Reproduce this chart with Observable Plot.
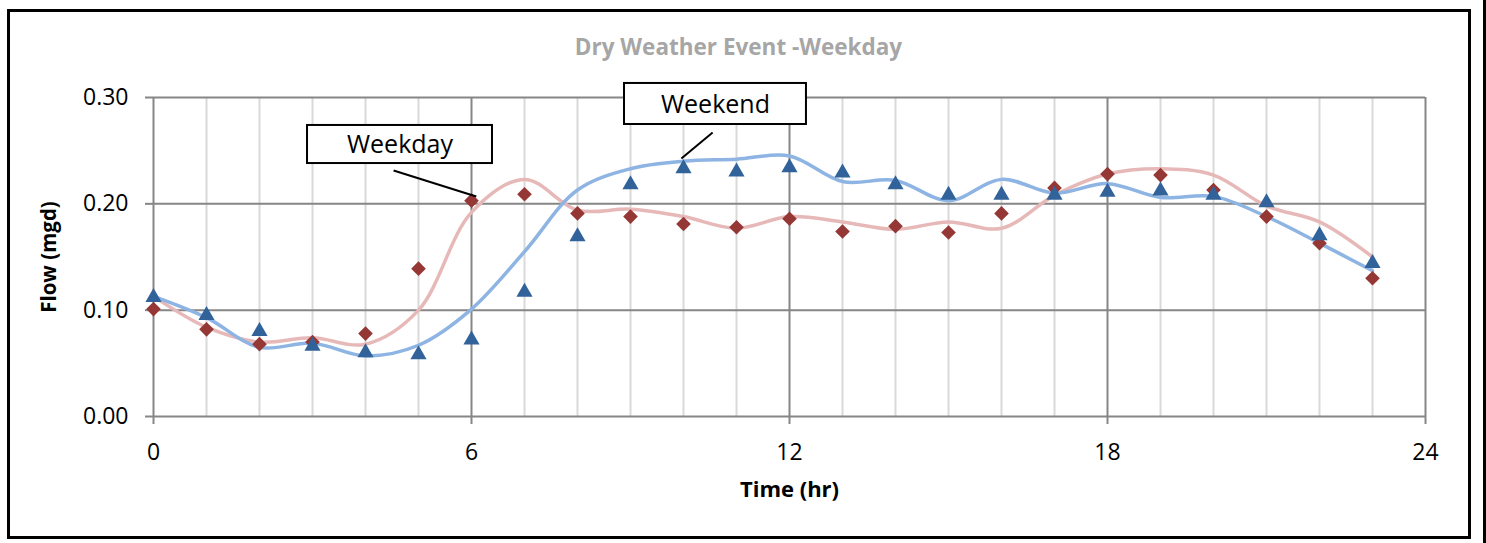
<!DOCTYPE html>
<html>
<head>
<meta charset="utf-8">
<script src="https://cdn.jsdelivr.net/npm/d3@7"></script>
<script src="https://cdn.jsdelivr.net/npm/@observablehq/plot@0.6"></script>
<style>
  html, body { margin: 0; padding: 0; background: #fff; overflow: hidden; }
  #wrap { position: relative; width: 1486px; height: 543px; }
  #frame { position: absolute; left: 7px; top: 9px; width: 1458px; height: 524px; border: 3px solid #000; pointer-events: none; }
  #edge { position: absolute; left: 1483px; top: 0; width: 3px; height: 543px; background: #000; }
  #chart { position: absolute; left: 0; top: 0; }
</style>
</head>
<body>
<div id="wrap">
  <div id="chart"></div>
  <div id="frame"></div>
  <div id="edge"></div>
</div>
<script>
// ---- data ----
const hours = [0,1,2,3,4,5,6,7,8,9,10,11,12,13,14,15,16,17,18,19,20,21,22,23];
const weekdayObs = [0.101,0.082,0.068,0.070,0.078,0.139,0.203,0.209,0.191,0.188,0.181,0.178,0.186,0.174,0.179,0.173,0.191,0.215,0.228,0.227,0.213,0.188,0.163,0.130];
const weekendObs = [0.114,0.097,0.082,0.068,0.062,0.060,0.074,0.119,0.171,0.220,0.235,0.232,0.236,0.231,0.220,0.210,0.210,0.210,0.213,0.214,0.210,0.203,0.172,0.146];
const weekdayFit = [0.113,0.084,0.070,0.074,0.068,0.100,0.192,0.223,0.194,0.195,0.188,0.177,0.188,0.183,0.176,0.183,0.177,0.208,0.228,0.233,0.227,0.198,0.183,0.150];
const weekendFit = [0.113,0.093,0.065,0.069,0.057,0.067,0.101,0.155,0.213,0.233,0.240,0.242,0.245,0.221,0.222,0.203,0.223,0.210,0.219,0.206,0.207,0.188,0.163,0.137];
const xTicks = [0,6,12,18,24];
const yTicks = [0.00,0.10,0.20,0.30];
const minorHours = [1,2,3,4,5,7,8,9,10,11,13,14,15,16,17,19,20,21,22,23];
const calloutLabels = ["Weekday","Weekend"];
const calloutX1 = [2.906, 8.887];
const calloutX2 = [6.396, 12.32];
const calloutY1 = [0.2379, 0.2746];
const calloutY2 = [0.2737, 0.3132];
const leaderX1 = [4.53, 10.55];
const leaderY1 = [0.2313, 0.267];
const leaderX2 = [6.09, 9.96];
const leaderY2 = [0.2069, 0.2426];
const titleText = "Dry Weather Event -Weekday";
const xLabel = "Time (hr)";
const yLabel = "Flow (mgd)";

// ---- tables ----
const rows = hours.map((h, i) => ({h, wdObs: weekdayObs[i], weObs: weekendObs[i], wdFit: weekdayFit[i], weFit: weekendFit[i]}));
const callouts = calloutLabels.map((t, i) => ({t, x1: calloutX1[i], x2: calloutX2[i], y1: calloutY1[i], y2: calloutY2[i],
  cx: (calloutX1[i] + calloutX2[i]) / 2, cy: (calloutY1[i] + calloutY2[i]) / 2,
  lx1: leaderX1[i], ly1: leaderY1[i], lx2: leaderX2[i], ly2: leaderY2[i]}));

const grid = "#868686";
const chart = Plot.plot({
  width: 1486,
  height: 543,
  marginLeft: 153,
  marginRight: 61,
  marginTop: 97,
  marginBottom: 127,
  style: {fontFamily: "'Open Sans', sans-serif", fontSize: "23px", background: "transparent", overflow: "visible"},
  x: {domain: [0, 24]},
  y: {domain: [0, 0.30]},
  marks: [
    Plot.ruleX(minorHours, {stroke: "#d9d9d9", strokeWidth: 2}),
    Plot.ruleX(xTicks, {stroke: grid, strokeWidth: 2}),
    Plot.ruleY(yTicks, {stroke: grid, strokeWidth: 2}),
    Plot.axisX({ticks: xTicks, tickSize: 8, tickPadding: 19, tickFormat: d => String(d), stroke: grid, strokeWidth: 2, fill: "#000", fontSize: 23, label: null}),
    Plot.axisY({ticks: yTicks, tickSize: 8, tickPadding: 17, tickFormat: d3.format(".2f"), stroke: grid, strokeWidth: 2, fill: "#000", fontSize: 23, label: null}),
    Plot.line(rows, {x: "h", y: "wdFit", stroke: "#E6B9B8", strokeWidth: 3.5, curve: "catmull-rom"}),
    Plot.line(rows, {x: "h", y: "weFit", stroke: "#8DB4E2", strokeWidth: 3.5, curve: "catmull-rom"}),
    Plot.dot(rows, {x: "h", y: "wdObs", symbol: "diamond2", r: 6.6, fill: "#953735", stroke: "none"}),
    Plot.dot(rows, {x: "h", y: "weObs", symbol: "triangle", r: 6, fill: "#31639A", stroke: "none", dy: 2}),
    Plot.link(callouts, {x1: "lx1", y1: "ly1", x2: "lx2", y2: "ly2", stroke: "#000", strokeWidth: 2}),
    Plot.rect(callouts, {x1: "x1", x2: "x2", y1: "y1", y2: "y2", fill: "#fff", stroke: "#000", strokeWidth: 2}),
    Plot.text(callouts, {x: "cx", y: "cy", text: "t", fontSize: 25, fill: "#000", dy: 1}),
    Plot.text([titleText], {frameAnchor: "top", lineAnchor: "middle", textAnchor: "middle", dx: -51, dy: -50, text: d => d, fontSize: 22.5, fontWeight: "bold", fill: "#A6A6A6"}),
    Plot.text([xLabel], {frameAnchor: "bottom", lineAnchor: "middle", textAnchor: "middle", dy: 73, text: d => d, fontSize: 22, fontWeight: "bold", fill: "#000"}),
    Plot.text([yLabel], {frameAnchor: "left", lineAnchor: "middle", textAnchor: "middle", dx: -104, text: d => d, rotate: -90, fontSize: 20.5, fontWeight: "bold", fill: "#000"})
  ]
});
document.getElementById("chart").appendChild(chart);
</script>
</body>
</html>
